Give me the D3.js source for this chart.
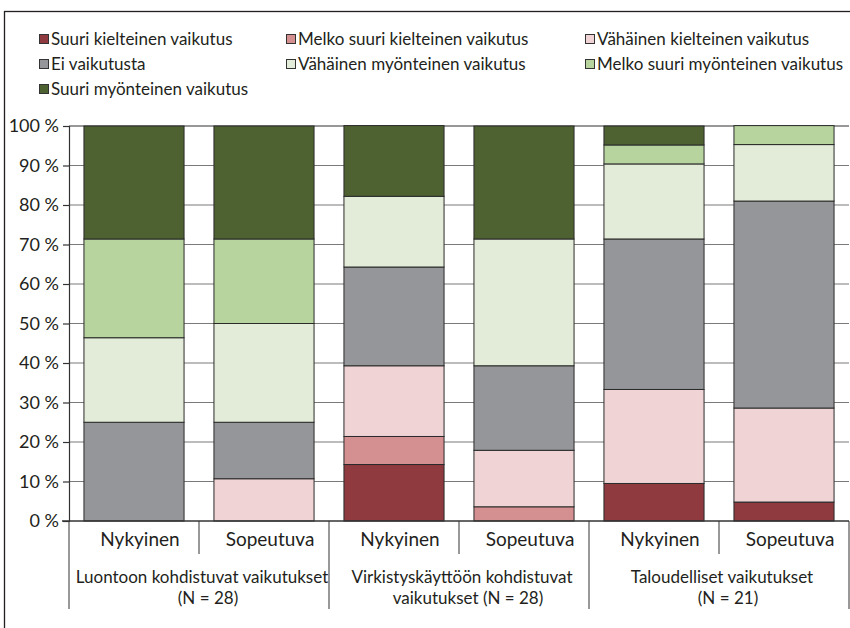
<!DOCTYPE html>
<meta charset="utf-8">
<style>
    body { margin: 0; background: #fff; }
    text { font-family: Lato, "Open Sans", sans-serif; fill: #231f20; }
</style>
<body>
<script src="https://cdn.jsdelivr.net/npm/d3@7/dist/d3.min.js"></script>
<script>

    // bars: two per group
    var bars = ["Nykyinen", "Sopeutuva", "Nykyinen", "Sopeutuva", "Nykyinen", "Sopeutuva"];
    var groups = [
        ["Luontoon kohdistuvat vaikutukset", "(N = 28)"],
        ["Virkistyskäyttöön kohdistuvat", "vaikutukset (N = 28)"],
        ["Taloudelliset vaikutukset", "(N = 21)"]
    ];
    var seriesNames = [
        "Suuri kielteinen vaikutus",
        "Melko suuri kielteinen vaikutus",
        "Vähäinen kielteinen vaikutus",
        "Ei vaikutusta",
        "Vähäinen myönteinen vaikutus",
        "Melko suuri myönteinen vaikutus",
        "Suuri myönteinen vaikutus"
    ];
    var colors = ["#8e3a3f", "#d48f91", "#efd3d5", "#959699", "#e3ecd8", "#b8d49e", "#4e6130"];

    // percentages per bar
    var suuriKielteinen   = [0, 0, 14.3, 0, 9.5, 4.8];
    var melkoKielteinen   = [0, 0, 7.1, 3.6, 0, 0];
    var vahainenKielt     = [0, 10.7, 17.9, 14.3, 23.8, 23.8];
    var eiVaikutusta      = [25, 14.3, 25, 21.4, 38.1, 52.4];
    var vahainenMyont     = [21.4, 25, 17.9, 32.1, 19.0, 14.3];
    var melkoMyont        = [25, 21.4, 0, 0, 4.8, 4.8];
    var suuriMyont        = [28.6, 28.6, 17.9, 28.6, 4.8, 0];

    var yTicks = [0, 10, 20, 30, 40, 50, 60, 70, 80, 90, 100];

    var seriesValues = [suuriKielteinen, melkoKielteinen, vahainenKielt, eiVaikutusta,
        vahainenMyont, melkoMyont, suuriMyont];

    var width = 850, height = 628;
    var plot = {left: 69, right: 849, top: 126, bottom: 521};

    var svg = d3.select("body").append("svg")
            .attr("width", width)
            .attr("height", height);

    // outer frame
    svg.append("rect")
            .attr("x", 4.5).attr("y", 11.5)
            .attr("width", 900).attr("height", 700)
            .attr("fill", "none")
            .attr("stroke", "#231f20")
            .attr("stroke-width", 1.3);

    var x = d3.scaleBand()
            .domain(d3.range(bars.length))
            .range([plot.left, plot.right])
            .paddingInner(0.23)
            .paddingOuter(0.115);

    var y = d3.scaleLinear()
            .domain([0, 100])
            .range([plot.bottom, plot.top]);

    // gridlines
    svg.append("g").selectAll("line")
            .data(yTicks.filter(function(d) { return d > 0; }))
            .enter().append("line")
            .attr("x1", plot.left).attr("x2", plot.right)
            .attr("y1", function(d) { return y(d); })
            .attr("y2", function(d) { return y(d); })
            .attr("stroke", function(d) { return d === 100 ? "#333" : "#7a7a7a"; })
            .attr("stroke-width", 1.2);

    // stacked data
    var table = bars.map(function(b, i) {
        var row = {index: i};
        seriesNames.forEach(function(s, k) { row[s] = seriesValues[k][i]; });
        return row;
    });
    var stacked = d3.stack().keys(seriesNames)(table);

    var layer = svg.append("g").selectAll("g")
            .data(stacked)
            .enter().append("g")
            .attr("fill", function(d, i) { return colors[i]; });

    layer.selectAll("rect")
            .data(function(d) { return d.filter(function(p) { return p[1] - p[0] > 0; }); })
            .enter().append("rect")
            .attr("x", function(d) { return x(d.data.index); })
            .attr("width", x.bandwidth())
            .attr("y", function(d) { return y(d[1]); })
            .attr("height", function(d) { return y(d[0]) - y(d[1]); })
            .attr("stroke", "#2a2a2a")
            .attr("stroke-width", 1);

    // y axis
    var yAxis = d3.axisLeft(y)
            .tickValues(yTicks)
            .tickSize(6)
            .tickPadding(4)
            .tickFormat(function(d) { return d + " %"; });

    var gy = svg.append("g")
            .attr("transform", "translate(" + plot.left + ",0)")
            .call(yAxis);
    gy.select(".domain").attr("stroke", "#333").attr("stroke-width", 1.2);
    gy.selectAll(".tick line").attr("stroke", "#333").attr("stroke-width", 1.2);
    gy.selectAll(".tick text")
            .attr("font-size", 18)
            .attr("font-family", "Lato, sans-serif")
            .attr("fill", "#231f20");

    // x axis line
    svg.append("line")
            .attr("x1", plot.left - 7).attr("x2", plot.right)
            .attr("y1", plot.bottom).attr("y2", plot.bottom)
            .attr("stroke", "#333").attr("stroke-width", 1.4);

    var step = x.step();
    // dividers between bars within group
    svg.append("g").selectAll("line")
            .data([1, 3, 5])
            .enter().append("line")
            .attr("x1", function(d) { return plot.left + d * step; })
            .attr("x2", function(d) { return plot.left + d * step; })
            .attr("y1", plot.bottom).attr("y2", 554)
            .attr("stroke", "#333").attr("stroke-width", 1);

    // dividers between groups
    svg.append("g").selectAll("line")
            .data([0, 2, 4, 6])
            .enter().append("line")
            .attr("x1", function(d) { return plot.left + d * step; })
            .attr("x2", function(d) { return plot.left + d * step; })
            .attr("y1", plot.bottom).attr("y2", 609)
            .attr("stroke", "#333").attr("stroke-width", 1);

    // bar labels
    svg.append("g").selectAll("text")
            .data(bars)
            .enter().append("text")
            .attr("x", function(d, i) { return x(i) + x.bandwidth() / 2 + 6; })
            .attr("y", 546)
            .attr("text-anchor", "middle")
            .attr("font-size", 19)
            .text(function(d) { return d; });

    // group labels
    var gl = svg.append("g").selectAll("g")
            .data(groups)
            .enter().append("g")
            .attr("transform", function(d, i) {
                return "translate(" + (plot.left + (2 * i + 1) * step) + ",0)";
            });
    gl.append("text")
            .attr("x", 3).attr("y", 583)
            .attr("text-anchor", "middle")
            .attr("font-size", 17)
            .text(function(d) { return d[0]; });
    gl.append("text")
            .attr("x", 9).attr("y", 604)
            .attr("text-anchor", "middle")
            .attr("font-size", 17)
            .text(function(d) { return d[1]; });

    // legend
    var legX = [39, 286, 585], legY = [39, 64, 89];
    var leg = svg.append("g").selectAll("g")
            .data(seriesNames)
            .enter().append("g")
            .attr("transform", function(d, i) {
                return "translate(" + legX[i % 3] + "," + legY[Math.floor(i / 3)] + ")";
            });
    leg.append("rect")
            .attr("x", 0.5).attr("y", -4.5)
            .attr("width", 9).attr("height", 9)
            .attr("fill", function(d, i) { return colors[i]; })
            .attr("stroke", "#333").attr("stroke-width", 1);
    leg.append("text")
            .attr("x", 12)
            .attr("y", 0)
            .attr("dy", "0.35em")
            .attr("font-size", 17)
            .text(function(d) { return d; });

</script>
